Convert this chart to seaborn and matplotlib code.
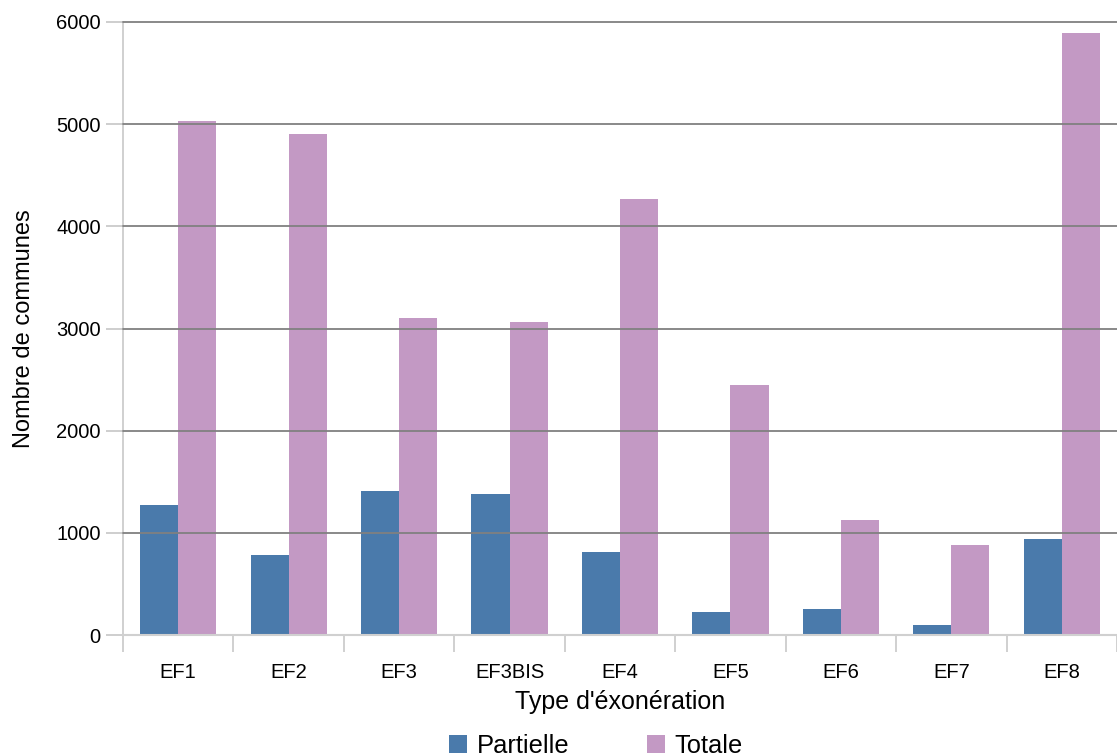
import matplotlib
matplotlib.use("Agg")
import matplotlib.pyplot as plt
import seaborn as sns
import pandas as pd
import numpy as np

categories = ["EF1", "EF2", "EF3", "EF3BIS", "EF4", "EF5", "EF6", "EF7", "EF8"]
partielle = [1270, 780, 1410, 1380, 810, 225, 250, 100, 940]
totale = [5030, 4900, 3100, 3060, 4270, 2450, 1130, 880, 5890]
series_names = ["Partielle", "Totale"]
colors = ["#4a7aab", "#c399c4"]

df = pd.DataFrame({
    "Type": categories * 2,
    "Serie": [series_names[0]] * len(categories) + [series_names[1]] * len(categories),
    "Valeur": partielle + totale,
})

sns.set_theme(style="white")
plt.rcParams["font.family"] = ["Liberation Sans", "DejaVu Sans"]
plt.rcParams["text.color"] = "black"
plt.rcParams["axes.labelcolor"] = "black"
plt.rcParams["xtick.labelcolor"] = "black"
plt.rcParams["ytick.labelcolor"] = "black"

fig = plt.figure(figsize=(11.17, 7.56), dpi=100)
ax = fig.add_axes([0.1101, 0.16, 0.8899, 0.8109])

sns.barplot(data=df, x="Type", y="Valeur", hue="Serie", order=categories,
            hue_order=series_names, palette=colors, width=0.69,
            saturation=1, ax=ax, legend=True, zorder=1,
            linewidth=0, edgecolor="none")

ax.set_xlim(-0.5, len(categories) - 0.5)
ax.set_ylim(0, 6000)
ax.set_yticks(np.arange(0, 6001, 1000))
ax.tick_params(axis="y", which="major", length=12, color="#c8c8c8",
               labelsize=14.5, labelcolor="black", pad=4, left=True)

# category labels at centres, tick marks at the category boundaries
ax.set_xticks(np.arange(len(categories)))
ax.set_xticklabels(categories)
ax.set_xticks(np.arange(-0.5, len(categories)), minor=True)
ax.tick_params(axis="x", which="major", length=0, labelsize=14.5, pad=20,
               labelcolor="black")
ax.tick_params(axis="x", which="minor", length=12, color="#c8c8c8",
               width=1.2, bottom=True)

# dark horizontal grid lines drawn over the bars, except at zero
for v in np.arange(1000, 6001, 1000):
    ax.axhline(v, color="#808080", lw=1.3, zorder=3, clip_on=False)

for side in ["top", "right"]:
    ax.spines[side].set_visible(False)
ax.spines["left"].set_color("#c8c8c8")
ax.spines["bottom"].set_color("#d0d0d0")
ax.spines["left"].set_linewidth(1.2)
ax.spines["bottom"].set_linewidth(1.5)

ax.set_xlabel("Type d'éxonération", fontsize=18, labelpad=6, color="black")
ax.set_ylabel("Nombre de communes", fontsize=17, labelpad=15, color="black")

handles, labels = ax.get_legend_handles_labels()
leg = ax.legend(handles, labels, loc="upper center", bbox_to_anchor=(0.476, -0.145),
                ncol=2, frameon=False, fontsize=18.4, handlelength=0.7,
                handleheight=0.7, handletextpad=0.4, columnspacing=3.0,
                borderaxespad=0)
for t in leg.get_texts():
    t.set_color("black")

fig.savefig("out.png", dpi=100)
